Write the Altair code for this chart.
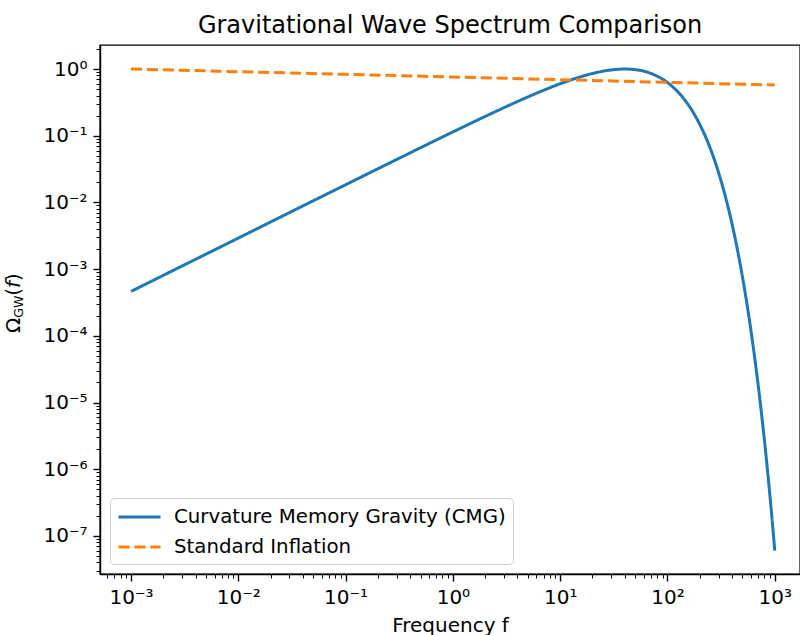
import altair as alt
import pandas as pd

# ---- data ----
series_names = ["Curvature Memory Gravity (CMG)", "Standard Inflation"]

cmg_f = [0.001, 0.003, 0.01, 0.03, 0.1, 0.3, 1, 2, 3, 5, 7, 10, 15, 20, 30, 40, 50,
         70, 100, 120, 150, 200, 250, 300, 400, 500, 600, 700, 800, 900, 1000]
cmg_omega = [4.63e-4, 1.115e-3, 2.92e-3, 7.04e-3, 0.0184, 0.0441, 0.114, 0.1947, 0.2638,
             0.3816, 0.4797, 0.601, 0.752, 0.857, 0.970, 1.0, 0.979, 0.859, 0.627, 0.486,
             0.319, 0.1477, 0.065, 0.02764, 4.71e-3, 7.62e-4, 1.193e-4, 1.827e-5,
             2.75e-6, 4.09e-7, 6.02e-8]

inf_f = [0.001, 0.01, 0.1, 1, 10, 100, 1000]
inf_omega = [1.0, 0.912, 0.832, 0.759, 0.692, 0.631, 0.575]

df = pd.concat([
    pd.DataFrame({"f": cmg_f, "omega": cmg_omega, "series": series_names[0]}),
    pd.DataFrame({"f": inf_f, "omega": inf_omega, "series": series_names[1]}),
])

FONT = "DejaVu Sans"
FS = 20
x_dom = [10 ** -3.289, 10 ** 3.235]
y_dom = [10 ** -7.571, 10 ** 0.36]

def ticks(dom, kmin, kmax):
    vals = []
    for k in range(kmin, kmax + 1):
        for m in range(1, 10):
            v = m * 10.0 ** k
            if dom[0] <= v <= dom[1]:
                vals.append(v)
    return vals

x_ticks = ticks(x_dom, -4, 3)
y_ticks = ticks(y_dom, -8, 0)

sup = {-7: "⁻⁷", -6: "⁻⁶", -5: "⁻⁵", -4: "⁻⁴", -3: "⁻³", -2: "⁻²", -1: "⁻¹",
       0: "⁰", 1: "¹", 2: "²", 3: "³"}
E = "round(log(datum.value)/LN10)"
is_major = "abs(log(datum.value)/LN10 - round(log(datum.value)/LN10)) < 0.001"
chain = " : ".join(f"{E} == {k} ? '10{v}'" for k, v in sup.items()) + " : ''"
label_expr = f"{is_major} ? ({chain}) : ''"
tick_size = {"condition": {"test": is_major, "value": 7}, "value": 4}
tick_width = {"condition": {"test": is_major, "value": 1.4}, "value": 1.0}

legend_opts = dict(title=None, orient="none", legendX=10, legendY=453,
                   symbolType="M-1,0L3,0", symbolSize=441, symbolStrokeWidth=3,
                   labelFontSize=19.8, labelFont=FONT, labelColor="black",
                   labelOffset=33, rowPadding=8, padding=7, cornerRadius=4,
                   strokeColor="#d0d0d0", fillColor="rgba(255,255,255,0.8)",
                   labelLimit=600)

lines = alt.Chart(df).mark_line(strokeWidth=3, interpolate="monotone", strokeCap="butt").encode(
    x=alt.X("f:Q", scale=alt.Scale(type="log", domain=x_dom, nice=False),
            axis=alt.Axis(values=x_ticks, labelExpr=label_expr, tickSize=tick_size,
                          tickWidth=tick_width, labelOverlap=False, labelFlush=False,
                          title="Frequency f", titlePadding=8, labelPadding=6)),
    y=alt.Y("omega:Q", scale=alt.Scale(type="log", domain=y_dom, nice=False),
            axis=alt.Axis(values=y_ticks, labelExpr=label_expr, tickSize=tick_size,
                          tickWidth=tick_width, labelOverlap=False, labelFlush=False,
                          title=None, labelPadding=6)),
    color=alt.Color("series:N",
                    scale=alt.Scale(domain=series_names, range=["#1f77b4", "#ff7f0e"]),
                    legend=alt.Legend(**legend_opts)),
    strokeDash=alt.StrokeDash("series:N",
                              scale=alt.Scale(domain=series_names, range=[[1, 0], [11.1, 4.8]]),
                              legend=alt.Legend(**legend_opts)),
)

# composite y-axis title:  Ω_GW(f)
def ypiece(text, x, y, size, style="normal"):
    return alt.Chart(pd.DataFrame({"t": [text]})).mark_text(
        angle=270, align="left", baseline="alphabetic", font=FONT,
        fontSize=size, fontStyle=style, color="black"
    ).encode(x=alt.value(x), y=alt.value(y), text="t:N")

ytitle = [
    ypiece("Ω", -80, 288, FS),
    ypiece("GW", -77, 272.7, 12.5),
    ypiece("(", -80, 250.7, FS),
    ypiece("f", -80, 242.9, FS, "italic"),
    ypiece(")", -80, 235.9, FS),
]

chart = alt.layer(lines, *ytitle).properties(
    width=700, height=529,
    autosize=alt.AutoSizeParams(type="none"),
    padding={"left": 100, "top": 45, "right": 0, "bottom": 61},
    title=alt.Title("Gravitational Wave Spectrum Comparison", fontSize=24, font=FONT,
                    fontWeight="normal", anchor="middle", offset=-18,
                    baseline="alphabetic", color="black"),
).configure(font=FONT, background="white").configure_view(
    stroke="black", strokeWidth=1.4
).configure_axis(
    domainColor="black", domainWidth=1.4, tickColor="black", labelColor="black",
    titleColor="black", labelFont=FONT, titleFont=FONT, labelFontSize=FS,
    titleFontSize=FS, titleFontWeight="normal", grid=False,
)

chart.save("out.html", embed_options={"renderer": "svg", "actions": False})
